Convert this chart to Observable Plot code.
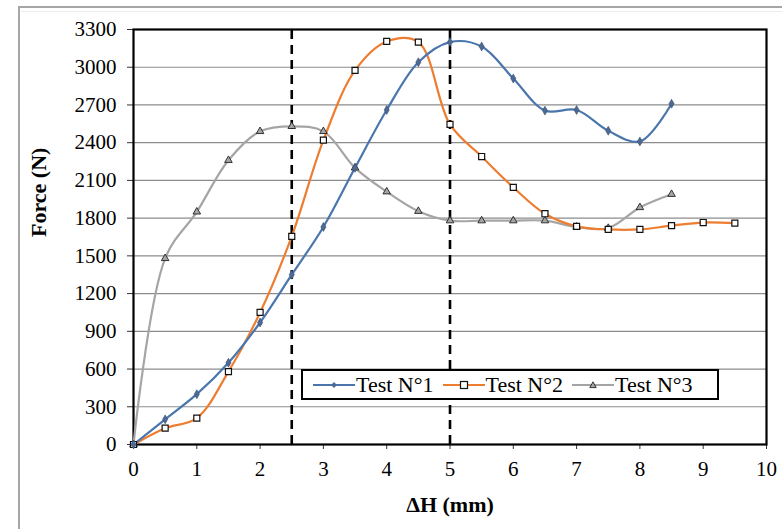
<!DOCTYPE html>
<html>
<head>
<meta charset="utf-8">
<script src="https://cdn.jsdelivr.net/npm/d3@7"></script>
<script src="https://cdn.jsdelivr.net/npm/@observablehq/plot@0.6"></script>
<style>
  html, body { margin: 0; padding: 0; background: #fff; }
  #wrap { position: relative; width: 782px; height: 529px; overflow: hidden; font-family: 'Liberation Serif', 'Times New Roman', serif; }
  #outer { position: absolute; left: 18px; top: 6px; width: 900px; height: 700px; border-left: 2px solid #a6a6a6; border-top: 2px solid #a6a6a6; }
  #outer2 { position: absolute; left: 21px; top: 11px; width: 900px; height: 0; border-top: 1px solid #ececec; }
  #chart { position: absolute; left: 0; top: 0; }
  #legend { position: absolute; left: 301px; top: 369px; width: 414px; height: 27px; border: 2px solid #000; background: #fff;
            display: flex; align-items: center; font-size: 22px; color: #000; }
  .item { display: flex; align-items: center; margin-left: 9px; }
  .item:first-child { margin-left: 10px; }
  .item svg { margin-right: 1px; }
</style>
</head>
<body>
<div id="wrap">
  <div id="outer"></div>
  <div id="outer2"></div>
  <div id="chart"></div>
  <div id="legend"></div>
</div>
<script>
// ---- data ----
const xValues1 = [0, 0.5, 1, 1.5, 2, 2.5, 3, 3.5, 4, 4.5, 5, 5.5, 6, 6.5, 7, 7.5, 8, 8.5];
const test1 = [0, 200, 400, 650, 970, 1350, 1730, 2200, 2660, 3040, 3200, 3165, 2910, 2655, 2660, 2495, 2410, 2710];

const xValues2 = [0, 0.5, 1, 1.5, 2, 2.5, 3, 3.5, 4, 4.5, 5, 5.5, 6, 6.5, 7, 7.5, 8, 8.5, 9, 9.5];
const test2 = [0, 130, 210, 580, 1050, 1655, 2420, 2975, 3205, 3200, 2545, 2290, 2045, 1835, 1735, 1710, 1710, 1740, 1765, 1760];

const xValues3 = [0, 0.5, 1, 1.5, 2, 2.5, 3, 3.5, 4, 4.5, 5, 5.5, 6, 6.5, 7, 7.5, 8, 8.5];
const test3 = [0, 1480, 1850, 2260, 2490, 2530, 2490, 2200, 2010, 1855, 1780, 1780, 1780, 1780, 1730, 1720, 1885, 1990];

const seriesNames = ["Test N°1", "Test N°2", "Test N°3"];
const seriesColors = ["#4a76ad", "#ed7d31", "#a5a5a5"];
const refLines = [2.5, 5];
const xTicks = [0, 1, 2, 3, 4, 5, 6, 7, 8, 9, 10];
const yTicks = [0, 300, 600, 900, 1200, 1500, 1800, 2100, 2400, 2700, 3000, 3300];
const xTitle = "ΔH (mm)";
const yTitle = "Force (N)";

// ---- build tables ----
const d1 = xValues1.map((x, i) => ({x, y: test1[i]}));
const d2 = xValues2.map((x, i) => ({x, y: test2[i]}));
const d3 = xValues3.map((x, i) => ({x, y: test3[i]}));

const chart = Plot.plot({
  width: 782,
  height: 529,
  marginLeft: 133,
  marginRight: 16,
  marginTop: 29,
  marginBottom: 85,
  x: {domain: [0, 10]},
  y: {domain: [0, 3300]},
  style: {fontFamily: "'Liberation Serif', 'Times New Roman', serif", fontSize: "21px", background: "transparent", color: "#000"},
  marks: [
    Plot.gridY(yTicks, {stroke: "#8c8c8c", strokeOpacity: 1, strokeWidth: 1.2}),
    Plot.axisY(yTicks, {tickSize: 6, tickPadding: 11, label: null, stroke: "#333", tickFormat: d => String(d)}),
    Plot.axisX(xTicks, {tickSize: 5, tickPadding: 12, label: null, stroke: "#333", tickFormat: d => String(d)}),
    Plot.frame({stroke: "#000", strokeWidth: 2.2}),
    Plot.ruleX(refLines, {y1: 0, y2: 3300, stroke: "#000", strokeWidth: 2.6, strokeDasharray: "9,6"}),
    Plot.line(d3, {x: "x", y: "y", stroke: seriesColors[2], strokeWidth: 2.2, curve: "catmull-rom"}),
    Plot.line(d2, {x: "x", y: "y", stroke: seriesColors[1], strokeWidth: 2.2, curve: "catmull-rom"}),
    Plot.line(d1, {x: "x", y: "y", stroke: seriesColors[0], strokeWidth: 2.2, curve: "catmull-rom"}),
    Plot.dot(d3, {x: "x", y: "y", symbol: "triangle", r: 2.8, fill: "#a5a5a5", stroke: "#222", strokeWidth: 0.9}),
    Plot.dot(d2, {x: "x", y: "y", symbol: "square", r: 3.4, fill: "#fff", stroke: "#111", strokeWidth: 1.2}),
    Plot.dot(d1, {x: "x", y: "y", symbol: "diamond", r: 2.7, fill: "#4d6a94", stroke: "#3a4f70", strokeWidth: 0.6}),
    Plot.text([yTitle], {frameAnchor: "left", rotate: -90, dx: -95, fontWeight: "bold", fontSize: 22, lineAnchor: "middle", fill: "#000"}),
    Plot.text([xTitle], {frameAnchor: "bottom", dy: 60, fontWeight: "bold", fontSize: 22, lineAnchor: "middle", fill: "#000"})
  ]
});
document.getElementById("chart").appendChild(chart);

// ---- legend ----
const markerSvg = [
  '<path d="M21,3 L24,6 L21,9 L18,6 Z" fill="#4d6a94"/>',
  '<rect x="17.5" y="2.5" width="7" height="7" fill="#fff" stroke="#111" stroke-width="1.2"/>',
  '<path d="M21,2.8 L24.2,8.6 L17.8,8.6 Z" fill="#a5a5a5" stroke="#222" stroke-width="0.9"/>'
];
const legend = document.getElementById("legend");
seriesNames.forEach((name, i) => {
  const item = document.createElement("div");
  item.className = "item";
  item.innerHTML = `<svg width="42" height="12"><line x1="0" y1="6" x2="42" y2="6" stroke="${seriesColors[i]}" stroke-width="2.2"/>${markerSvg[i]}</svg><span>${name}</span>`;
  legend.appendChild(item);
});
</script>
</body>
</html>
